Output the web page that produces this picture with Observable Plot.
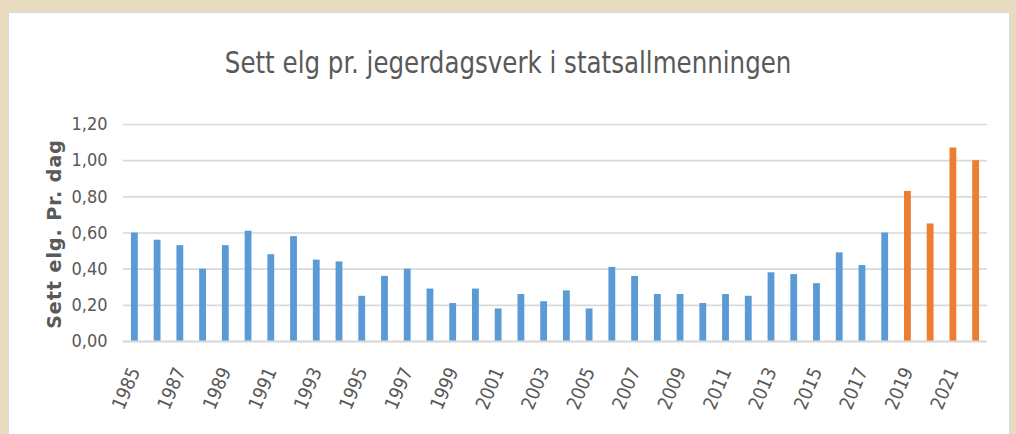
<!DOCTYPE html>
<html>
<head>
<meta charset="utf-8">
<script src="https://cdn.jsdelivr.net/npm/d3@7"></script>
<script src="https://cdn.jsdelivr.net/npm/@observablehq/plot@0.6"></script>
<style>
  html, body { margin: 0; padding: 0; }
  body { width: 1016px; height: 434px; background: #E9DBBD; position: relative; overflow: hidden;
         font-family: "DejaVu Sans Condensed", "Liberation Sans", sans-serif; }
  #panel { position: absolute; left: 8px; top: 12px; width: 1002px; height: 440px; background: #fff;
           border: 1px solid #D6DCE4; box-sizing: border-box; }
  #title { position: absolute; left: 0; top: 42px; width: 1016px; text-align: center; font-size: 31px;
           color: #595959; line-height: 40px; transform: scaleX(0.88); transform-origin: 509px 0; white-space: nowrap; }
  #chart { position: absolute; left: 0; top: 100px; }
  #ylabel { position: absolute; left: 54px; top: 234px; transform: translate(-50%, -50%) rotate(-90deg);
            font-family: "DejaVu Sans", sans-serif; font-weight: bold; font-size: 19px; letter-spacing: 1px;
            color: #595959; white-space: nowrap; }
</style>
</head>
<body>
<div id="panel"></div>
<div id="title">Sett elg pr. jegerdagsverk i statsallmenningen</div>
<div id="ylabel">Sett elg. Pr. dag</div>
<div id="chart"></div>
<script>
const years = [1985,1986,1987,1988,1989,1990,1991,1992,1993,1994,1995,1996,1997,1998,1999,2000,2001,2002,2003,2004,2005,2006,2007,2008,2009,2010,2011,2012,2013,2014,2015,2016,2017,2018,2019,2020,2021,2022];
const values = [0.60,0.56,0.53,0.40,0.53,0.61,0.48,0.58,0.45,0.44,0.25,0.36,0.40,0.29,0.21,0.29,0.18,0.26,0.22,0.28,0.18,0.41,0.36,0.26,0.26,0.21,0.26,0.25,0.38,0.37,0.32,0.49,0.42,0.60,0.83,0.65,1.07,1.00];
const highlightYears = [2019,2020,2021,2022];
const yTicks = [0,0.2,0.4,0.6,0.8,1.0,1.2];
const xTickLabels = [1985,1987,1989,1991,1993,1995,1997,1999,2001,2003,2005,2007,2009,2011,2013,2015,2017,2019,2021];

const data = years.map((y, i) => ({year: y, value: values[i], group: highlightYears.includes(y) ? "ny" : "tidligere"}));

const fmt = d => d.toFixed(2).replace(".", ",");
const fontFam = '"DejaVu Sans Condensed", "Liberation Sans", sans-serif';

const chart = Plot.plot({
  width: 1016,
  height: 334,
  marginLeft: 123,
  marginRight: 29,
  marginTop: 24,
  marginBottom: 93,
  style: {fontFamily: fontFam, fontSize: "18px", color: "#595959", background: "transparent", overflow: "visible"},
  x: {type: "band", domain: years, paddingInner: 0.7, paddingOuter: 0.35, round: false},
  y: {domain: [0, 1.2]},
  color: {domain: ["tidligere", "ny"], range: ["#5B9BD5", "#ED7D31"]},
  marks: [
    Plot.gridY(yTicks, {stroke: "#D9D9D9", strokeOpacity: 1, strokeWidth: 1.6}),
    Plot.axisY(yTicks, {tickSize: 0, tickPadding: 16, tickFormat: fmt, label: null, fill: "#595959"}),
    Plot.barY(data, {x: "year", y: "value", fill: "group"}),
    Plot.ruleY([0], {stroke: "#D9D9D9", strokeWidth: 2}),
    Plot.axisX(xTickLabels, {tickSize: 0, tickPadding: 27, tickRotate: -67, textAnchor: "end", lineAnchor: "middle",
      tickFormat: d => String(d), label: null, fill: "#595959", fontSize: 19})
  ]
});
document.getElementById("chart").appendChild(chart);
</script>
</body>
</html>
